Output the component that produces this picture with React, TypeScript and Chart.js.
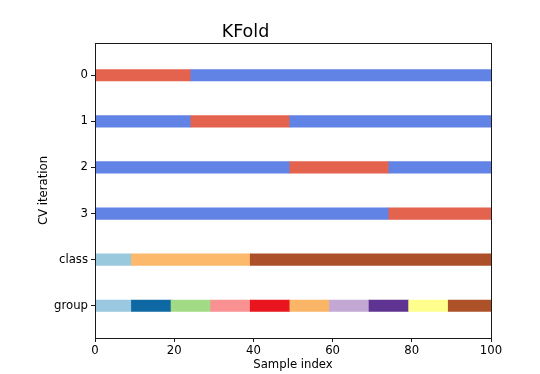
import React, { useEffect, useRef } from 'react';
import { Chart, registerables } from 'chart.js';

Chart.register(...registerables);

const rowLabels = ['0', '1', '2', '3', 'class', 'group'];
const rowPositions = [0.5, 1.5, 2.5, 3.5, 4.5, 5.5];
const xTicks = [0, 20, 40, 60, 80, 100];

// KFold test-fold boundaries (sample index)
const foldBounds = [0, 24.2, 49.2, 74.2, 100];
const trainColor = '#6283e6';
const testColor = '#e4634f';

// class segments
const classBounds = [0, 9.2, 39.2, 100];
const classColors = ['#99c9dd', '#fcb86b', '#ac5029'];

// group segments
const groupBounds = [0, 9.2, 19.2, 29.2, 39.2, 49.2, 59.2, 69.2, 79.2, 89.2, 100];
const groupColors = [
  '#99c8e0', '#0d68a3', '#a2db86', '#f99192', '#e8141e',
  '#fbb566', '#c3a8d4', '#5f3391', '#fffe8c', '#ad5129',
];

const FONT = 'DejaVu Sans';

type Seg = { x: [number, number]; y: number };

function buildDatasets() {
  const datasets: any[] = [];
  const end = foldBounds[foldBounds.length - 1];
  for (let i = 0; i < foldBounds.length - 1; i++) {
    const data: Seg[] = [];
    const colors: string[] = [];
    const y = rowPositions[i];
    if (foldBounds[i] > foldBounds[0]) {
      data.push({ x: [foldBounds[0], foldBounds[i]], y });
      colors.push(trainColor);
    }
    data.push({ x: [foldBounds[i], foldBounds[i + 1]], y });
    colors.push(testColor);
    if (foldBounds[i + 1] < end) {
      data.push({ x: [foldBounds[i + 1], end], y });
      colors.push(trainColor);
    }
    datasets.push({ data, backgroundColor: colors });
  }
  const segRow = (bounds: number[], cols: string[], y: number) => {
    const data: Seg[] = [];
    for (let j = 0; j < bounds.length - 1; j++) data.push({ x: [bounds[j], bounds[j + 1]], y });
    return { data, backgroundColor: cols };
  };
  datasets.push(segRow(classBounds, classColors, rowPositions[4]));
  datasets.push(segRow(groupBounds, groupColors, rowPositions[5]));
  return datasets.map((d) => ({
    ...d,
    type: 'bar',
    grouped: false,
    barThickness: 11.5,
    borderWidth: 0,
  }));
}

const spinePlugin = {
  id: 'spines',
  afterDatasetsDraw(chart: any) {
    const { ctx, chartArea } = chart;
    ctx.save();
    ctx.strokeStyle = '#1a1a1a';
    ctx.lineWidth = 1;
    ctx.strokeRect(
      Math.round(chartArea.left) + 0.5,
      Math.round(chartArea.top) + 0.5,
      Math.round(chartArea.right) - Math.round(chartArea.left),
      Math.round(chartArea.bottom) - Math.round(chartArea.top)
    );
    ctx.restore();
  },
};

export default function App() {
  const ref = useRef<HTMLCanvasElement | null>(null);
  useEffect(() => {
    if (!ref.current) return;
    const chart = new Chart(ref.current, {
      type: 'bar',
      data: { datasets: buildDatasets() as any },
      options: {
        animation: false,
        responsive: false,
        indexAxis: 'y',
        layout: { padding: { left: 0, right: 49, top: 0, bottom: 0 } },
        plugins: {
          legend: { display: false },
          tooltip: { enabled: false },
          title: {
            display: true,
            text: 'KFold',
            color: '#000',
            font: { family: FONT, size: 17.5, weight: 'normal' },
            padding: { top: 22, bottom: 0 },
          },
        },
        scales: {
          x: {
            type: 'linear',
            min: 0,
            max: 100,
            offset: false,
            afterBuildTicks: (scale: any) => {
              scale.ticks = xTicks.map((v) => ({ value: v }));
            },
            afterFit: (scale: any) => {
              scale.height = 36;
            },
            border: { display: false },
            grid: {
              display: true,
              offset: false,
              drawOnChartArea: false,
              drawTicks: true,
              tickLength: 4,
              color: '#1a1a1a',
            },
            ticks: {
              autoSkip: false,
              maxRotation: 0,
              padding: 2,
              color: '#000',
              font: { family: FONT, size: 11.7 },
            },
            title: {
              display: true,
              text: 'Sample index',
              color: '#000',
              font: { family: FONT, size: 11.7 },
              padding: { top: 0, bottom: 2 },
            },
          },
          y: {
            type: 'linear',
            reverse: true,
            min: -0.2,
            max: 6.2,
            offset: false,
            afterBuildTicks: (scale: any) => {
              scale.ticks = rowPositions.map((v) => ({ value: v }));
            },
            afterFit: (scale: any) => {
              scale.width = 95;
            },
            border: { display: false },
            grid: {
              display: true,
              offset: false,
              drawOnChartArea: false,
              drawTicks: true,
              tickLength: 4,
              color: '#1a1a1a',
            },
            ticks: {
              autoSkip: false,
              padding: 3,
              color: '#000',
              font: { family: FONT, size: 11.7 },
              callback: (_v: any, i: number) => rowLabels[i],
            },
            title: {
              display: true,
              text: 'CV iteration',
              color: '#000',
              font: { family: FONT, size: 11.7 },
              padding: { top: 37, bottom: 0 },
            },
          },
        },
      },
      plugins: [spinePlugin],
    });
    return () => chart.destroy();
  }, []);
  return (
    <div style={{ position: 'fixed', left: 0, top: 0, width: 540, height: 374, background: '#fff' }}>
      <canvas ref={ref} width={540} height={374} style={{ width: 540, height: 374 }} />
    </div>
  );
}
